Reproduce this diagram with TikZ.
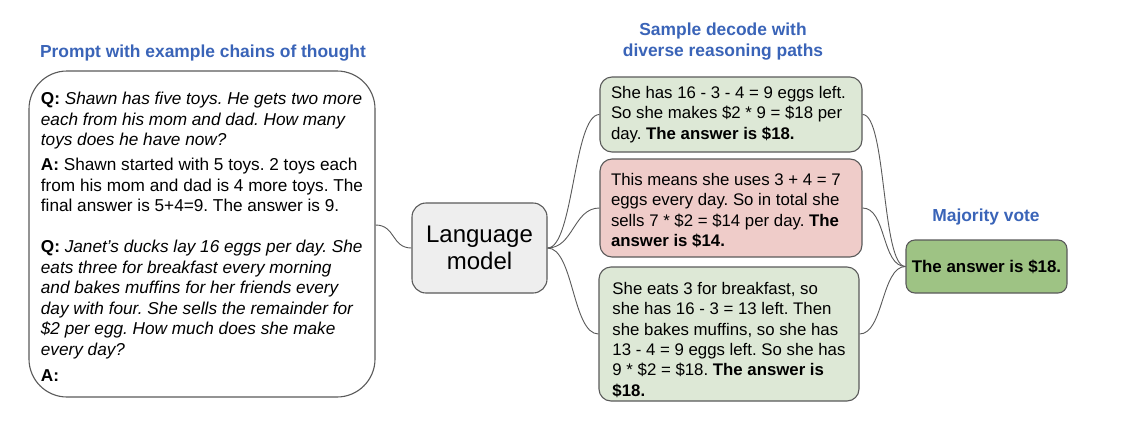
\documentclass[tikz,border=0pt]{standalone}
\usepackage{fontspec}
\setmainfont{Liberation Sans}
\frenchspacing
\definecolor{ttlblue}{HTML}{3A64B8}
\definecolor{lgreen}{HTML}{DDE8D6}
\definecolor{lred}{HTML}{EFCCC9}
\definecolor{dgreen}{HTML}{9EC384}
\definecolor{lgray}{HTML}{EEEEEE}
\definecolor{edge}{HTML}{5A5A5A}
\begin{document}
\begin{tikzpicture}[x=1pt,y=-1pt,
  box/.style={draw=edge,line width=1.1pt,rounded corners=12pt,inner ysep=0pt,inner xsep=0pt,align=left},
  ttl/.style={text=ttlblue,font=\fontsize{17.4}{21}\selectfont\bfseries,align=center},
  body/.style={font=\fontsize{16.8}{20.3}\selectfont},
  conn/.style={draw=edge,line width=0.9pt}]
\useasboundingbox (0,0) rectangle (1138,429);
\fill[white] (0,0) rectangle (1138,429);

\node[ttl] (tprompt) at (203,53) {Prompt with example chains of thought};
\node[ttl] (tsample) at (723,42) {Sample decode with\\diverse reasoning paths};
\node[ttl] (tvote) at (986,217) {Majority vote};

\node[box,rounded corners=38pt,fill=white,minimum width=346pt,minimum height=326pt,
  font=\fontsize{17.2}{20.5}\selectfont] (prompt) at (202,234)
{\makebox[322pt][l]{\rule{0pt}{17.5pt}\textbf{Q:} \textit{Shawn has five toys. He gets two more}}\\
\textit{each from his mom and dad. How many}\\
\textit{toys does he have now?}\\[4.5pt]
\textbf{A:} Shawn started with 5 toys. 2 toys each\\
from his mom and dad is 4 more toys. The\\
final answer is 5+4=9. The answer is 9.\\[20.5pt]
\textbf{Q:} \textit{Janet’s ducks lay 16 eggs per day. She}\\
\textit{eats three for breakfast every morning}\\
\textit{and bakes muffins for her friends every}\\
\textit{day with four. She sells the remainder for}\\
\textit{\$2 per egg. How much does she make}\\
\textit{every day?}\\[5.5pt]
\textbf{A:}};

\node[box,fill=lgray,rounded corners=14pt,minimum width=135pt,minimum height=90pt,
  align=center,font=\fontsize{24}{27}\selectfont] (lm) at (479.5,248) {Language\\model};

\node[box,body,fill=lgreen,minimum width=262pt,minimum height=75pt] (s1) at (731,114.5)
{\makebox[240pt][l]{She has 16 - 3 - 4 = 9 eggs left.}\\
So she makes \$2 * 9 = \$18 per\\
day. \textbf{The answer is \$18.}};

\node[box,body,fill=lred,minimum width=262pt,minimum height=98pt] (s2) at (731,208)
{\makebox[240pt][l]{\rule{0pt}{17pt}This means she uses 3 + 4 = 7}\\
eggs every day. So in total she\\
sells 7 * \$2 = \$14 per day. \textbf{The}\\
\textbf{answer is \$14.}};

\node[box,body,fill=lgreen,minimum width=260pt,minimum height=134pt] (s3) at (729,334)
{\makebox[232pt][l]{\rule{0pt}{24pt}She eats 3 for breakfast, so}\\
she has 16 - 3 = 13 left. Then\\
she bakes muffins, so she has\\
13 - 4 = 9 eggs left. So she has\\
9 * \$2 = \$18. \textbf{The answer is}\\
\textbf{\$18.}};

\node[box,fill=dgreen,rounded corners=9pt,minimum width=161pt,minimum height=53pt,
  align=center,font=\fontsize{16.9}{20}\selectfont\bfseries] (vote) at (986.5,266.5) {The answer is \$18.};

\draw[conn] ([yshift=9pt]prompt.east) .. controls +(20,0) and +(-20,0) .. (lm.west);
\foreach \s in {s1,s2,s3}{
  \draw[conn] (lm.east) .. controls +(26,0) and +(-26,0) .. (\s.west);
  \draw[conn] (\s.east) .. controls +(24,0) and +(-24,0) .. (vote.west);
}
\end{tikzpicture}
\end{document}
